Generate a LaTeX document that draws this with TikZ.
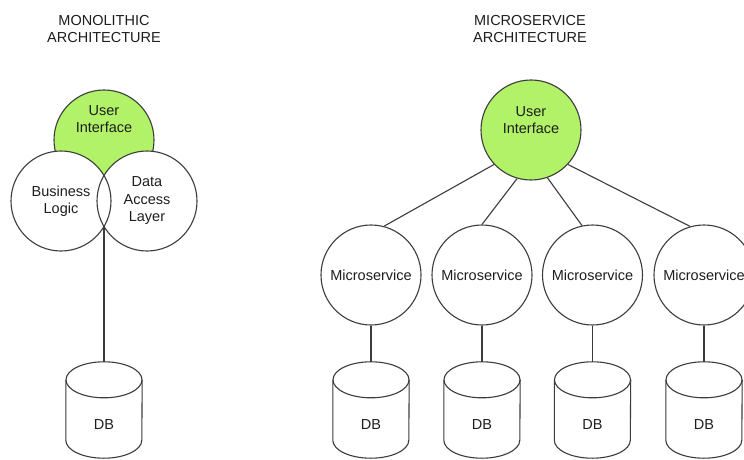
\documentclass[tikz,border=0pt]{standalone}
\usepackage{fontspec}
\setmainfont{Liberation Sans}
\begin{document}
\definecolor{edge}{RGB}{60,60,60}
\definecolor{uigreen}{RGB}{178,242,104}
\definecolor{ink}{RGB}{30,30,30}
\begin{tikzpicture}[x=1pt,y=1pt,
  lbl/.style={font=\fontsize{14.5}{17.5}\selectfont, text=ink, align=center, inner sep=0pt},
  bubble/.style={circle, minimum size=100pt, inner sep=0pt, draw=edge, line width=1.1pt, fill=white},
  uibubble/.style={bubble, fill=uigreen},
  outline/.style={draw=edge, line width=1.1pt},
  link/.style={draw=edge, line width=1.1pt},
  dbbody/.style={rectangle, minimum width=76pt, minimum height=96pt, inner sep=0pt}]

\fill[white] (0,0) rectangle (744,459);
\useasboundingbox (0,0) rectangle (744,459);

% a database drawn as a cylinder; #1 = node name, #2 = x of its axis
\newcommand\dbstack[2]{%
  \node[dbbody] (#1) at (#2,49) {};
  \draw[outline] ([yshift=-18pt]#1.north) ellipse [x radius=38pt, y radius=18pt];
  \draw[outline] ([yshift=-18pt]#1.north west) -- ([yshift=18pt]#1.south west)
     arc [start angle=180, end angle=360, x radius=38pt, y radius=18pt]
     -- ([yshift=-18pt]#1.north east);
  \node[lbl] (#1-t) at ([yshift=-15pt]#1.center) {DB};
}

% ---------- monolithic side ----------
\node[lbl] (monotitle) at (104,430) {MONOLITHIC\\ARCHITECTURE};

\node[uibubble] (mui) at (104,319) {};
\node[bubble, draw=none] (bl) at (61,258) {};
\node[bubble, draw=none] (dal) at (147,258) {};
\draw[outline] (bl.center) circle [radius=50pt];
\draw[outline] (dal.center) circle [radius=50pt];
\node[lbl] (mui-t) at (104,340) {User\\Interface};
\node[lbl] (bl-t) at (bl.center) {Business\\Logic};
\node[lbl] (dal-t) at (dal.center) {Data\\Access\\Layer};

\coordinate (lens) at (104,232);
\dbstack{mdb}{104}
\draw[link] (lens) -- (mdb.north);

% ---------- microservice side ----------
\node[lbl] (microtitle) at (530,430) {MICROSERVICE\\ARCHITECTURE};

\node[uibubble] (ui) at (531,329) {};
\node[lbl] (ui-t) at (531,339) {User\\Interface};

\foreach \n/\x in {1/371,2/482,3/592.5,4/704}{
  \node[bubble] (ms\n) at (\x,184) {};
  \node[lbl] (ms\n-t) at (ms\n.center) {Microservice};
  \dbstack{db\n}{\x}
  \draw[link] (ms\n.south) -- (db\n.north);
}

\draw[link] (ui.223) -- (ms1.75);
\draw[link] (ui.254) -- (ms2.90);
\draw[link] (ui.289) -- (ms3.102);
\draw[link] (ui.317) -- (ms4.106);
\end{tikzpicture}
\end{document}
